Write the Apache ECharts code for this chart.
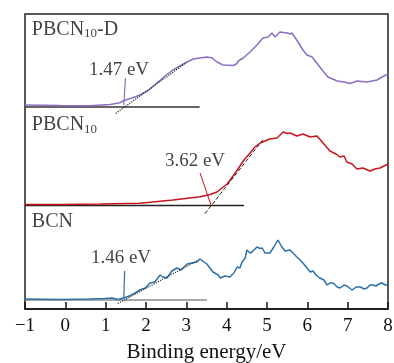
<!DOCTYPE html>
<html>
<head>
<meta charset="utf-8">
<script src="https://cdn.jsdelivr.net/npm/echarts@6/dist/echarts.min.js"></script>
<style>
  html, body { margin: 0; padding: 0; background: #fff; }
  #chart { width: 394px; height: 363px; }
</style>
</head>
<body>
<div id="chart"></div>
<script>
// Stacked valence-band spectra (offset intensities, a.u.)
const xTicks = [-1, 0, 1, 2, 3, 4, 5, 6, 7, 8];

const pdE = [-1.0, -0.13, 0.61, 1.11, 1.36, 1.43, 1.65, 1.85, 2.07, 2.27, 2.47, 2.67, 2.84, 3.02, 3.17, 3.34, 3.51, 3.64, 3.76, 3.91, 4.16, 4.24, 4.29, 4.41, 4.58, 4.75, 4.90, 5.03, 5.12, 5.20, 5.32, 5.50, 5.57, 5.62, 5.77, 5.89, 5.99, 6.12, 6.31, 6.51, 6.74, 6.91, 7.06, 7.23, 7.48, 7.73, 7.85, 8.0];
const pdI = [204, 203.5, 203.3, 204.5, 206.3, 208, 211, 214, 219, 226, 233, 239, 243, 247, 250, 251, 252, 251, 247, 244, 243.5, 245, 248, 251, 257, 264, 271, 272, 276, 272, 277, 276, 275, 276, 267, 259, 254, 252, 242, 232, 228, 227, 225.5, 228, 227, 229, 232, 235];

const pE = [-1.0, -0.13, 0.86, 1.85, 2.67, 3.34, 3.59, 3.76, 4.01, 4.16, 4.33, 4.41, 4.58, 4.70, 4.83, 4.95, 5.07, 5.25, 5.40, 5.50, 5.57, 5.74, 5.89, 6.07, 6.24, 6.39, 6.56, 6.71, 6.81, 6.91, 6.98, 7.11, 7.23, 7.38, 7.55, 7.68, 7.80, 8.0];
const pI = [104.5, 104.5, 105, 105.7, 109, 112.3, 114.5, 117, 125, 133, 143, 148, 156, 162, 166, 168, 170, 171, 177, 175.5, 176, 173, 175, 172, 173, 166, 158, 155, 152, 153, 147, 145, 140, 141, 138, 140, 141, 145];

const bE = [-1.0, -0.13, 0.61, 0.98, 1.16, 1.31, 1.45, 1.60, 1.73, 1.85, 1.98, 2.10, 2.22, 2.35, 2.42, 2.52, 2.64, 2.77, 2.87, 3.02, 3.14, 3.26, 3.34, 3.44, 3.51, 3.66, 3.79, 3.84, 3.96, 4.08, 4.18, 4.26, 4.33, 4.38, 4.46, 4.50, 4.58, 4.63, 4.75, 4.83, 4.88, 4.95, 5.07, 5.17, 5.27, 5.37, 5.45, 5.57, 5.67, 5.74, 5.82, 5.89, 5.99, 6.07, 6.14, 6.24, 6.31, 6.41, 6.49, 6.56, 6.64, 6.74, 6.81, 6.91, 6.98, 7.11, 7.21, 7.31, 7.41, 7.48, 7.55, 7.63, 7.70, 7.78, 7.85, 7.93, 8.0];
const bI = [10, 9.5, 10, 10.5, 11, 9.5, 11, 13.3, 16, 19, 21, 26, 27, 34, 32, 31, 38, 41, 39, 45, 46, 47, 50, 47, 45, 37, 34, 31, 33, 32, 36, 42, 41, 47, 51, 59, 56, 57, 62, 60.5, 61, 56, 56, 62, 69, 62, 58, 59, 55, 52, 49, 46, 41, 37, 38, 33, 31, 29, 24, 26, 26, 22, 21, 24, 23, 19, 22, 22, 20, 21, 24, 24, 23, 25, 26, 24, 24];

// Baselines and onset tangents: [E, I] endpoints
const pdBase = [[-1, 202], [3.33, 202]];
const pdTangent = [[1.25, 195.6], [3.0, 246.4]];
const pdLeader = [[1.49, 231], [1.45, 204]];

const pBase = [[-1, 103.5], [4.43, 103.5]];
const pTangent = [[3.46, 95.3], [4.9, 169.3]];
const pLeader = [[3.34, 136], [3.62, 103]];

const bBase = [[-1, 9], [3.51, 9]];
const bTangent = [[1.3, 5.5], [3.3, 49]];
const bLeader = [[1.47, 38], [1.45, 11]];

// Text annotations: [E, I, text]
const sampleLabels = [
  [-0.83, 279.5, 'PBCN{s|10}-D'],
  [-0.83, 184, 'PBCN{s|10}'],
  [-0.83, 87, 'BCN']
];
const gapLabels = [
  [1.33, 239, '1.47 eV'],
  [3.215, 148, '3.62 eV'],
  [1.38, 51, '1.46 eV']
];

const PURPLE = '#8b6fc2';
const RED = '#c8141e';
const BLUE = '#2b70a6';
const SERIF = '"Liberation Serif", "Times New Roman", serif';

const zip = (xs, ys) => xs.map((x, i) => [x, ys[i]]);

function curve(name, data, color, width) {
  return {
    name, type: 'line', data, showSymbol: false, symbol: 'none',
    lineStyle: { color, width: width || 1.5 }, silent: true, z: 3
  };
}
function guide(data, color, type, width, z) {
  return {
    type: 'line', data, showSymbol: false, symbol: 'none', silent: true,
    lineStyle: { color, width: width || 1, type: type || 'solid' }, z: z || 2
  };
}

const chart = echarts.init(document.getElementById('chart'));
chart.setOption({
  animation: false,
  backgroundColor: '#fff',
  grid: {
    left: 25, right: 6, top: 14, bottom: 54,
    outerBoundsMode: 'none', containLabel: false,
    show: true, borderColor: '#222', borderWidth: 1.5, backgroundColor: 'transparent'
  },
  xAxis: {
    type: 'value', min: xTicks[0], max: xTicks[xTicks.length - 1], interval: 1,
    name: 'Binding energy/eV', nameLocation: 'middle', nameGap: 33,
    nameTextStyle: { fontFamily: SERIF, fontSize: 21, color: '#111' },
    axisLine: { show: true, lineStyle: { color: '#111', width: 1.5 } },
    axisTick: { show: true, inside: true, length: 7, lineStyle: { color: '#111', width: 1.5 } },
    axisLabel: {
      fontFamily: SERIF, fontSize: 19, color: '#111', margin: 8,
      formatter: v => (v < 0 ? '\u2212' + Math.abs(v) : String(v))
    },
    splitLine: { show: false }
  },
  yAxis: {
    type: 'value', min: 0, max: 295, show: false
  },
  series: [
    guide(pdBase, '#333', 'solid', 1.5),
    guide(pBase, '#222', 'solid', 1.5),
    guide(bBase, '#555', 'solid', 1.2),
    curve('PBCN10-D', zip(pdE, pdI), PURPLE),
    curve('PBCN10', zip(pE, pI), RED),
    curve('BCN', zip(bE, bI), BLUE),
    guide(pdTangent, '#222', 'dotted', 1.2, 4),
    guide(pTangent, '#222', 'dashed', 1, 4),
    guide(bTangent, '#333', 'dotted', 1.2, 4),
    guide(pdLeader, PURPLE, 'solid', 1.2, 4),
    guide(pLeader, RED, 'solid', 1, 4),
    guide(bLeader, BLUE, 'solid', 1.2, 4),
    {
      type: 'scatter', symbolSize: 0, silent: true, z: 5,
      data: sampleLabels.map(d => ({ value: [d[0], d[1]], text: d[2] })),
      label: {
        show: true, position: 'right', distance: 0,
        formatter: p => p.data.text,
        fontFamily: SERIF, fontSize: 20, color: '#111',
        rich: {
          s: { fontFamily: SERIF, fontSize: 13, color: '#111', padding: [9, 0, 0, 0] }
        }
      }
    },
    {
      type: 'scatter', symbolSize: 0, silent: true, z: 5,
      data: gapLabels.map(d => ({ value: [d[0], d[1]], text: d[2] })),
      label: {
        show: true, position: 'inside',
        formatter: p => p.data.text,
        fontFamily: SERIF, fontSize: 19, color: '#111'
      }
    }
  ]
});
</script>
</body>
</html>
